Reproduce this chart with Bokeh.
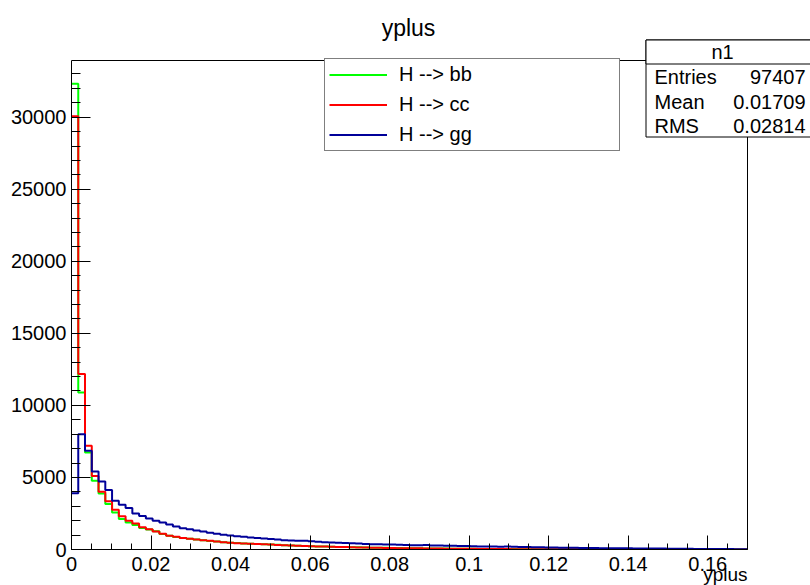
import numpy as np
from bokeh.plotting import figure
from bokeh.models import (Range1d, FixedTicker, Label, BoxAnnotation, Legend, LegendItem, Title)
from bokeh.embed import file_html
from bokeh.resources import INLINE

# ---------------- data ----------------
bin_low, bin_high, n_bins = 0.0, 0.17, 100

h_bb = [32320, 10900, 6740, 4770, 3890, 3150, 2570, 2110, 1875, 1700,
        1500, 1380, 1260, 1080, 960, 870, 790, 750, 690, 640,
        590, 560, 510, 470, 445, 420, 395, 385, 370, 345,
        325, 300, 275, 260, 245, 225, 215, 200, 190, 175,
        165, 160, 150, 140, 130, 122, 115, 105, 98, 90,
        85, 80, 76, 70, 66, 62, 57, 52, 50, 46,
        43, 40, 36, 32, 29, 27, 25, 23, 21, 20,
        18, 17, 16, 15, 14, 13, 12, 12, 11, 10,
        9, 9, 8, 8, 7, 7, 7, 6, 6, 5,
        5, 5, 4, 4, 4, 3, 3, 3, 2, 2]

h_cc = [30070, 12180, 7200, 5100, 4000, 3350, 2750, 2300, 2000, 1800,
        1550, 1400, 1250, 1100, 950, 880, 800, 740, 700, 650,
        600, 560, 500, 460, 440, 420, 400, 390, 370, 340,
        320, 300, 280, 260, 240, 225, 210, 200, 185, 175,
        165, 155, 145, 140, 130, 120, 110, 100, 95, 90,
        85, 80, 75, 70, 65, 60, 56, 52, 48, 45,
        42, 38, 34, 30, 28, 26, 24, 22, 20, 19,
        18, 17, 16, 15, 14, 13, 12, 11, 10, 10,
        9, 9, 8, 8, 7, 7, 6, 6, 5, 5,
        5, 4, 4, 4, 3, 3, 3, 2, 2, 2]

h_gg = [3900, 8000, 6850, 5420, 4720, 4130, 3380, 3100, 2880, 2500,
        2330, 2150, 2000, 1870, 1730, 1600, 1480, 1400, 1320, 1250,
        1170, 1090, 1020, 970, 920, 880, 840, 800, 765, 730,
        690, 650, 630, 610, 600, 570, 540, 510, 490, 470,
        450, 430, 410, 390, 370, 360, 350, 340, 325, 310,
        300, 295, 310, 285, 275, 265, 255, 245, 235, 225,
        215, 205, 200, 190, 205, 190, 175, 165, 155, 150,
        145, 140, 130, 125, 120, 110, 105, 100, 95, 92,
        88, 84, 80, 77, 74, 72, 70, 65, 60, 55,
        50, 46, 43, 40, 36, 33, 30, 28, 25, 23]

series_names = ["H --> bb", "H --> cc", "H --> gg"]
series_colors = ["#00ff00", "#ff0000", "#000099"]

x_ticks = [0, 0.02, 0.04, 0.06, 0.08, 0.1, 0.12, 0.14, 0.16]
x_tick_labels = ["0", "0.02", "0.04", "0.06", "0.08", "0.1", "0.12", "0.14", "0.16"]
y_ticks = [0, 5000, 10000, 15000, 20000, 25000, 30000]
y_tick_labels = ["0", "5000", "10000", "15000", "20000", "25000", "30000"]

title_text = "yplus"
x_title = "yplus"
stats_title = "n1"
stats_names = ["Entries", "Mean", "RMS"]
stats_values = ["97407", "0.01709", "0.02814"]

# ---------------- layout ----------------
W, H = 810, 585
FL, FR, FT, FB = 71, 747, 60, 549      # ROOT frame (pixels)
y_max = 33936                           # ROOT y axis maximum
FONT = "Liberation Sans"

# the Bokeh frame spans from FL to the right canvas edge and from the top
# canvas edge down to FB, so that the boxes and titles are not clipped
x_end = bin_high + (W - FR) / (FR - FL) * (bin_high - bin_low)
y_end = y_max * FB / (FB - FT)

def px_x(px):
    return bin_low + (px - FL) / (FR - FL) * (bin_high - bin_low)

def px_y(py):
    return (FB - py) / (FB - FT) * y_max

p = figure(width=W, height=H, output_backend="svg", toolbar_location=None,
           x_range=Range1d(bin_low, x_end), y_range=Range1d(0, y_end),
           min_border_left=FL, min_border_right=0,
           min_border_top=0, min_border_bottom=H - FB)
p.background_fill_color = "white"
p.border_fill_color = "white"
p.outline_line_color = None
p.xgrid.visible = False
p.ygrid.visible = False

edges = np.linspace(bin_low, bin_high, n_bins + 1)
renderers = []
for vals, col in zip([h_bb, h_cc, h_gg], series_colors):
    xs = np.repeat(edges, 2)[1:-1]
    ys = np.repeat(np.array(vals, dtype=float), 2)
    r = p.line(xs, ys, line_color=col, line_width=2)
    renderers.append(r)

# ROOT frame
p.add_layout(BoxAnnotation(left=bin_low, right=bin_high, bottom=0, top=y_max,
                           fill_alpha=0, line_color="black", line_width=1, line_alpha=1))

# axes
x_minor = [round(i * 0.005, 4) for i in range(35)]
y_minor = [i * 1000 for i in range(34)]
p.xaxis.ticker = FixedTicker(ticks=x_ticks, minor_ticks=x_minor)
p.yaxis.ticker = FixedTicker(ticks=y_ticks, minor_ticks=y_minor)
p.xaxis.major_label_overrides = dict(zip(x_ticks, x_tick_labels))
p.yaxis.major_label_overrides = dict(zip(y_ticks, y_tick_labels))
p.xaxis.bounds = (bin_low, bin_high)
p.yaxis.bounds = (0, y_max)
for ax in (p.xaxis[0], p.yaxis[0]):
    ax.axis_line_color = "black"
    ax.axis_line_width = 1
    ax.major_tick_line_color = "black"
    ax.minor_tick_line_color = "black"
    ax.major_tick_out = 0
    ax.minor_tick_out = 0
    ax.major_label_text_font = FONT
    ax.major_label_text_font_size = "20px"
    ax.major_label_text_color = "black"
p.xaxis.major_tick_in = 14
p.xaxis.minor_tick_in = 6
p.yaxis.major_tick_in = 19
p.yaxis.minor_tick_in = 9
p.xaxis.major_label_standoff = 7
p.yaxis.major_label_standoff = 5

# x axis title (below the tick labels, right aligned at the frame edge)
p.add_layout(Title(text=x_title, align="right", offset=W - FR, vertical_align="top",
                   standoff=-19, text_font=FONT, text_font_size="19px",
                   text_font_style="normal", text_color="black"), "below")

# legend
items = [LegendItem(label=n, renderers=[r]) for n, r in zip(series_names, renderers)]
legend = Legend(items=items, location=(324 - FL, FB - 151),
                padding=4, spacing=7, margin=0,
                glyph_width=58, glyph_height=23, label_height=23,
                label_width=216, label_standoff=12,
                label_text_font=FONT, label_text_font_size="20px",
                label_text_color="black",
                border_line_color="black", border_line_width=1,
                background_fill_color="white", background_fill_alpha=1)
p.add_layout(legend)

# title
p.add_layout(Label(x=px_x(408), y=px_y(27), text=title_text, text_align="center",
                   text_baseline="alphabetic", text_font=FONT,
                   text_font_size="23px", text_color="black"))

# stats box
p.add_layout(BoxAnnotation(left=px_x(645.5), right=px_x(812), top=px_y(39.5), bottom=px_y(136.5),
                           fill_color="white", fill_alpha=1, line_color="black",
                           line_width=1, line_alpha=1))
p.add_layout(BoxAnnotation(left=px_x(645.5), right=px_x(812), top=px_y(39.5), bottom=px_y(63.5),
                           fill_color="white", fill_alpha=1, line_color="black",
                           line_width=1, line_alpha=1))
p.add_layout(Label(x=px_x(722), y=px_y(51.5), text=stats_title, text_align="center",
                   text_baseline="middle", text_font=FONT, text_font_size="20px",
                   text_color="black"))
for i, (nm, vl) in enumerate(zip(stats_names, stats_values)):
    yy = px_y(76.5 + i * 24.5)
    p.add_layout(Label(x=px_x(654), y=yy, text=nm, text_align="left",
                       text_baseline="middle", text_font=FONT, text_font_size="20px",
                       text_color="black"))
    p.add_layout(Label(x=px_x(805), y=yy, text=vl, text_align="right",
                       text_baseline="middle", text_font=FONT, text_font_size="20px",
                       text_color="black"))

open("out.html", "w").write(file_html(p, INLINE))
